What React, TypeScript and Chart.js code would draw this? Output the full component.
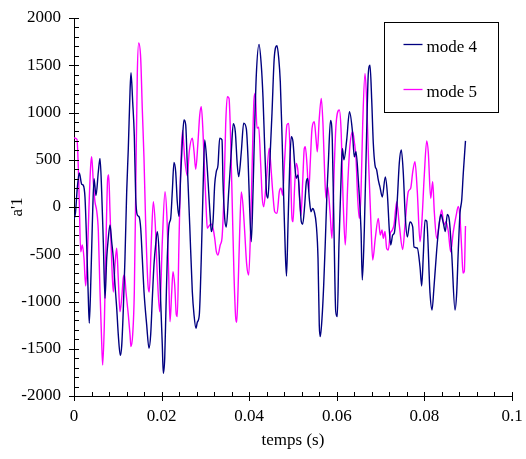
import React, { useEffect, useRef } from "react";
import { Chart, registerables } from "chart.js";

Chart.register(...registerables);

const FONT = '"Liberation Serif", "Times New Roman", serif';

// Time axis (seconds) and amplitude axis settings
const X_MIN = 0;
const X_MAX = 0.1;
const X_STEP = 0.02;
const Y_MIN = -2000;
const Y_MAX = 2000;
const Y_STEP = 500;

const seriesLabels = ["mode 4", "mode 5"];
const axisTitleX = "temps (s)";
const axisTitleY = "a'1";

// mode 4 : time in milliseconds, value a'1
const timesMode4Ms = [
  0, 0.34, 0.75, 1.21, 1.76, 2.12, 2.51, 2.9, 3.26, 3.49,
  3.88, 4.18, 4.57, 5.02, 5.55, 5.94, 6.32, 6.69, 7.08, 7.47,
  7.83, 8.22, 8.61, 8.97, 9.36, 9.75, 10.11, 10.57, 10.89, 11.26,
  11.64, 12.03, 12.4, 12.79, 13.01, 13.4, 13.77, 14.09, 14.45, 14.84,
  15.23, 15.59, 15.98, 16.6, 17.12, 17.51, 17.88, 18.26, 18.72, 19.02,
  19.41, 19.79, 20.16, 20.39, 20.71, 21.0, 21.3, 21.69, 22.08, 22.44,
  22.83, 23.22, 23.58, 23.97, 24.36, 24.73, 25.11, 25.5, 25.87, 26.42,
  27.01, 27.4, 27.85, 28.15, 28.61, 29.06, 29.45, 29.84, 30.37, 30.75,
  31.12, 31.35, 31.74, 32.12, 32.49, 32.88, 33.26, 33.79, 34.02, 34.41,
  34.77, 35.32, 35.91, 36.37, 36.83, 37.28, 37.6, 38.2, 38.74, 39.34,
  39.73, 40.11, 40.48, 40.87, 41.26, 41.62, 42.24, 42.76, 43.15, 43.49,
  43.72, 43.95, 44.29, 44.68, 45.21, 45.73, 46.35, 46.74, 47.1, 47.49,
  47.88, 48.24, 48.52, 48.86, 49.25, 49.61, 50.0, 50.39, 50.75, 51.14,
  51.53, 51.89, 52.21, 52.67, 53.04, 53.36, 53.72, 54.11, 54.5, 54.86,
  55.32, 55.71, 56.0, 56.23, 56.62, 57.01, 57.38, 57.76, 58.06, 58.56,
  58.97, 59.36, 59.75, 60.11, 60.5, 60.89, 61.26, 61.64, 62.26, 62.9,
  63.54, 64.0, 64.38, 64.91, 65.53, 65.82, 66.28, 66.83, 67.19, 67.58,
  67.97, 68.33, 68.72, 69.11, 69.47, 69.86, 70.39, 71.07, 71.53, 71.99,
  72.31, 72.76, 73.13, 73.52, 73.81, 74.27, 74.73, 75.18, 75.64, 76.1,
  76.71, 77.33, 77.63, 78.38, 79.0, 79.38, 79.76, 80.14, 80.53, 81.28,
  81.74, 82.19, 82.81, 83.4, 83.79, 84.32, 84.77, 85.23, 85.69, 86.23,
  86.99, 87.37, 87.74, 88.13, 88.52, 88.88, 89.38,
];
const valuesMode4 = [
  -130, -60, 200, 360, 240, 230, 100, -400, -950, -1230,
  -720, -190, 300, 120, 370, 515, 160, -370, -966, -540,
  -330, -190, -370, -540, -825, -1070, -1350, -1570, -1470, -1080,
  -540, 160, 620, 1220, 1420, 1110, 750, 100, -85, -102,
  -225, -540, -895, -1250, -1495, -1350, -970, -610, -365, -261,
  -470, -1000, -1460, -1760, -1600, -1070, -540, -190, -120, 160,
  472, 370, 55, -102, 340, 690, 920, 870, 445, -190,
  -895, -1140, -1284, -1220, -1140, -540, 160, 709, 445, 160,
  -120, -261, -155, 235, 375, 445, 727, 710, 265, -120,
  -211, 160, 585, 881, 795, 445, 321, 585, 888, 830,
  515, -15, -367, 160, 870, 1395, 1721, 1500, 1160, 700,
  400, 150, 95, 445, 1000, 1585, 1707, 1575, 1325, 760,
  90, -475, -730, -190, 445, 744, 690, 445, 305, 339,
  90, -155, -183, 20, 265, 303, 90, -50, -15, -50,
  -190, -540, -1250, -1372, -1180, -825, -365, 160, 460, 915,
  710, -245, -1100, -1160, -385, 180, 620, 500, 710, 1008,
  815, 530, 585, 285, -245, -772, -245, 815, 1410, 1500,
  1132, 677, 444, 391, 286, 211, 106, 317, 148, -243,
  -402, -296, -275, -106, 74, 466, 603, 360, -106, -317,
  -158, -211, -423, -434, -635, -836, -500, -140, -150, -910,
  -1090, -846, -455, -169, -80, -169, -260, -80, -138, -487,
  -1090, -910, -455, -63, 74, 360, 700,
];

// mode 5 : time in milliseconds, value a'1
const timesMode5Ms = [
  0, 0.68, 0.98, 1.21, 1.53, 1.89, 2.28, 2.67, 3.04, 3.42,
  3.81, 4.04, 4.41, 4.79, 5.18, 5.55, 5.94, 6.32, 6.55, 6.92,
  7.31, 7.69, 7.92, 8.22, 8.61, 8.97, 9.36, 9.75, 10.11, 10.5,
  10.89, 11.26, 11.53, 11.87, 12.4, 12.79, 13.01, 13.4, 13.77, 14.09,
  14.45, 14.77, 15.23, 15.59, 15.98, 16.37, 16.89, 17.19, 17.65, 18.11,
  18.56, 19.02, 19.57, 20.16, 20.78, 21.23, 21.62, 21.92, 22.31, 22.6,
  22.99, 23.36, 23.58, 23.97, 24.36, 24.77, 25.27, 25.87, 26.32, 27.01,
  27.4, 27.79, 28.31, 28.7, 29.06, 29.45, 29.84, 30.21, 30.43, 30.98,
  31.35, 31.74, 32.12, 32.49, 32.88, 33.4, 33.79, 34.25, 34.63, 35.0,
  35.39, 35.78, 36.14, 36.53, 36.92, 37.15, 37.44, 37.83, 38.2, 38.58,
  38.97, 39.43, 39.89, 40.34, 40.71, 41.1, 41.39, 41.78, 42.17, 42.63,
  42.99, 43.31, 43.84, 44.59, 44.98, 45.37, 45.82, 46.35, 46.87, 47.26,
  47.65, 48.11, 48.63, 49.02, 49.38, 49.77, 50.0, 50.39, 50.75, 51.14,
  51.53, 51.83, 52.21, 52.58, 52.81, 53.2, 53.58, 53.95, 54.34, 54.86,
  55.25, 55.55, 56.0, 56.46, 56.85, 57.24, 57.53, 57.92, 58.45, 58.9,
  59.43, 59.82, 60.57, 60.96, 61.48, 61.94, 62.49, 63.01, 63.63, 64.0,
  64.38, 64.77, 65.14, 65.53, 65.91, 66.44, 66.83, 67.28, 67.81, 68.2,
  68.79, 69.47, 69.93, 70.32, 70.62, 71.0, 71.39, 71.76, 72.21, 72.6,
  73.06, 73.68, 74.27, 75.05, 75.57, 76.32, 76.87, 77.33, 77.85, 78.38,
  79.0, 79.38, 79.98, 80.53, 80.89, 81.44, 81.89, 82.26, 82.81, 83.33,
  83.95, 84.47, 84.93, 85.46, 86.0, 86.6, 87.21, 87.74, 88.13, 88.52,
  88.81, 89.11, 89.38,
];
const valuesMode5 = [
  730, 715, 423, 40, -473, -402, -540, -835, -540, 0,
  440, 532, 265, 55, -40, -250, -900, -1430, -1672, -1250,
  -370, 300, 339, -50, -580, -899, -610, -437, -760, -1108,
  -965, -750, -719, -900, -1140, -1350, -1478, -1350, -899, 160,
  1400, 1735, 1570, 1040, 515, -190, -825, -899, -370, 56,
  -190, -720, -1108, -370, 162, -120, -720, -1213, -899, -685,
  -825, -1140, -1160, -370, 410, 810, 515, 330, 590, 727,
  590, 400, 690, 970, 1061, 795, 340, -50, -225, -190,
  -183, -225, -330, -470, -508, -400, -330, 160, 870, 1167,
  1150, 690, 10, -720, -1175, -1220, -895, -260, 160, 20,
  -260, -610, -719, -190, 515, 1140, 1203, 835, 845, 445,
  90, 3, 235, 621, 410, 160, -50, -67, 160, 198,
  125, 515, 870, 885, 515, -120, -155, 235, 462, 375,
  55, -85, 265, 620, 638, 445, 162, 480, 830, 902,
  725, 585, 940, 1150, 870, 340, 95, 215, -50, -331,
  440, 868, 1026, 830, 20, -402, 233, 656, 797, 690,
  515, 90, -120, 160, 868, 1414, 1115, 445, -190, -561,
  -330, -120, -296, -243, -330, -260, -440, -455, -280, -250,
  -190, 56, -190, -450, -190, 162, 198, 370, 479, 162,
  -367, -190, 340, 700, 580, 92, 268, -50, -331, -190,
  -32, -190, -155, -260, -473, -260, -100, 5, -120, -450,
  -700, -680, -200,
];

const COLOR_MODE4 = "#000080";
const COLOR_MODE5 = "#FF00FF";

function toPoints(timesMs: number[], values: number[]) {
  return timesMs.map((ms, i) => ({ x: ms / 1000, y: values[i] }));
}

const tickAndLegendPlugin = {
  id: "tickAndLegend",
  afterDraw(chart: any) {
    const ctx: CanvasRenderingContext2D = chart.ctx;
    const xs = chart.scales.x;
    const ys = chart.scales.y;
    const { left, bottom, top, right } = chart.chartArea;
    ctx.save();
    ctx.strokeStyle = "#000";
    ctx.lineWidth = 1;
    ctx.beginPath();
    const yMinorCount = (Y_MAX - Y_MIN) / 100;
    for (let i = 0; i <= yMinorCount; i++) {
      const v = Y_MIN + i * 100;
      const p = Math.round(ys.getPixelForValue(v)) + 0.5;
      const major = i % 5 === 0;
      ctx.moveTo(Math.round(left) + (major ? -5 : 0), p);
      ctx.lineTo(Math.round(left) + 5, p);
    }
    const xMinorCount = 25;
    for (let i = 0; i <= xMinorCount; i++) {
      const v = X_MIN + (i * (X_MAX - X_MIN)) / xMinorCount;
      const p = Math.round(xs.getPixelForValue(v)) + 0.5;
      const major = i % 5 === 0;
      ctx.moveTo(p, Math.round(bottom) - 4);
      ctx.lineTo(p, Math.round(bottom) + (major ? 5 : 0));
    }
    ctx.stroke();

    // legend box
    const boxW = 114;
    const boxH = 90;
    const bx = Math.round(right) - 14 - boxW + 0.5;
    const by = Math.round(top) + 4 + 0.5;
    ctx.strokeRect(bx, by, boxW, boxH);
    ctx.font = `17px ${FONT}`;
    ctx.textBaseline = "alphabetic";
    ctx.textAlign = "left";
    chart.data.datasets.forEach((ds: any, i: number) => {
      const ly = by + 22 + i * 45;
      ctx.beginPath();
      ctx.strokeStyle = ds.borderColor;
      ctx.lineWidth = 1.3;
      ctx.moveTo(bx + 19, ly);
      ctx.lineTo(bx + 38, ly);
      ctx.stroke();
      ctx.fillStyle = "#000";
      ctx.fillText(ds.label, bx + 42, ly + 7.5);
    });
    ctx.restore();
  },
};

export default function App() {
  const ref = useRef<HTMLCanvasElement>(null);
  useEffect(() => {
    if (!ref.current) return;
    const chart = new Chart(ref.current, {
      type: "line",
      data: {
        datasets: [
          {
            label: seriesLabels[0],
            data: toPoints(timesMode4Ms, valuesMode4),
            borderColor: COLOR_MODE4,
            borderWidth: 1.4,
            pointRadius: 0,
            cubicInterpolationMode: "monotone",
            fill: false,
          },
          {
            label: seriesLabels[1],
            data: toPoints(timesMode5Ms, valuesMode5),
            borderColor: COLOR_MODE5,
            borderWidth: 1.4,
            pointRadius: 0,
            cubicInterpolationMode: "monotone",
            fill: false,
          },
        ],
      },
      options: {
        animation: false,
        responsive: false,
        devicePixelRatio: 1,
        layout: { padding: { top: 18, right: 14, left: 0, bottom: 0 } },
        plugins: { legend: { display: false }, tooltip: { enabled: false } },
        scales: {
          x: {
            type: "linear",
            min: X_MIN,
            max: X_MAX,
            afterFit: (s: any) => {
              s.height = 63;
              s.paddingLeft = 0;
              s.paddingRight = 0;
              s.paddingTop = 0;
              s.paddingBottom = 0;
            },
            ticks: {
              stepSize: X_STEP,
              autoSkip: false,
              maxRotation: 0,
              padding: 10,
              color: "#000",
              font: { family: FONT, size: 17 },
              callback: (v: any) => String(+Number(v).toFixed(3)),
            },
            grid: { display: false, drawTicks: false },
            border: { display: true, color: "#000", width: 1 },
            title: {
              display: true,
              text: axisTitleX,
              color: "#000",
              font: { family: FONT, size: 17 },
              padding: { top: 0, bottom: 8 },
            },
          },
          y: {
            type: "linear",
            min: Y_MIN,
            max: Y_MAX,
            afterFit: (s: any) => {
              s.width = 74;
              s.paddingLeft = 0;
              s.paddingRight = 0;
              s.paddingTop = 0;
              s.paddingBottom = 0;
            },
            ticks: {
              stepSize: Y_STEP,
              autoSkip: false,
              padding: 13,
              color: "#000",
              font: { family: FONT, size: 17 },
              callback: (v: any) => String(v),
            },
            grid: { display: false, drawTicks: false },
            border: { display: true, color: "#000", width: 1 },
            title: {
              display: true,
              text: axisTitleY,
              color: "#000",
              font: { family: FONT, size: 17 },
              padding: { top: 7, bottom: 0 },
            },
          },
        },
      },
      plugins: [tickAndLegendPlugin],
    } as any);
    return () => chart.destroy();
  }, []);
  return (
    <div style={{ position: "absolute", left: 0, top: 0, width: 526, height: 459, background: "#fff" }}>
      <canvas ref={ref} width={526} height={459} style={{ width: 526, height: 459, display: "block" }} />
    </div>
  );
}
